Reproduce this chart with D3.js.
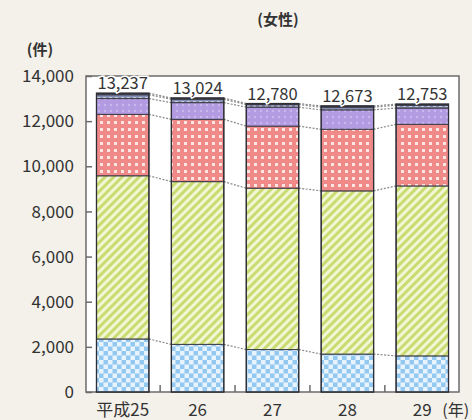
<!DOCTYPE html>
<html>
<head>
<meta charset="utf-8">
<script src="https://cdn.jsdelivr.net/npm/d3@7"></script>
<style>
  body { margin: 0; background: #f4f1ea; }
  svg { display: block; font-family: "Noto Sans CJK JP", "Noto Sans", sans-serif; }
</style>
</head>
<body>
<div id="main"></div>
<script>
const years = ["平成25", "26", "27", "28", "29"];
const totals = [13237, 13024, 12780, 12673, 12753];
// stacked from the bottom up
const blue = [2350, 2110, 1880, 1680, 1600];
const green = [7230, 7210, 7150, 7230, 7530];
const red = [2720, 2760, 2750, 2730, 2730];
const purple = [700, 740, 840, 860, 720];
const slate = [170, 150, 110, 120, 125];
const dark = [67, 54, 50, 53, 48];
const yTicks = [0, 2000, 4000, 6000, 8000, 10000, 12000, 14000];

const seriesKeys = ["blue", "green", "red", "purple", "slate", "dark"];
const seriesFill = {
  blue: "url(#pat-blue)",
  green: "url(#pat-green)",
  red: "url(#pat-red)",
  purple: "url(#pat-purple)",
  slate: "url(#pat-slate)",
  dark: "#3d4766",
};

const rows = years.map((y, i) => ({
  year: y,
  blue: blue[i], green: green[i], red: red[i],
  purple: purple[i], slate: slate[i], dark: dark[i],
}));

const W = 472, H = 420;
const M = { left: 86, right: 459, top: 76, bottom: 392 };

const svg = d3.select("#main").append("svg").attr("width", W).attr("height", H);
svg.append("rect").attr("width", W).attr("height", H).attr("fill", "#f4f1ea");

const defs = svg.append("defs");

// light blue checker
const pBlue = defs.append("pattern").attr("id", "pat-blue")
  .attr("patternUnits", "userSpaceOnUse").attr("width", 9).attr("height", 9);
pBlue.append("rect").attr("width", 9).attr("height", 9).attr("fill", "#93c8f0");
pBlue.append("rect").attr("width", 4.5).attr("height", 4.5).attr("fill", "#e8f4fd");
pBlue.append("rect").attr("x", 4.5).attr("y", 4.5).attr("width", 4.5).attr("height", 4.5).attr("fill", "#e8f4fd");

// green diagonal hatch
const pGreen = defs.append("pattern").attr("id", "pat-green")
  .attr("patternUnits", "userSpaceOnUse").attr("width", 6).attr("height", 6)
  .attr("patternTransform", "rotate(45)");
pGreen.append("rect").attr("width", 6).attr("height", 6).attr("fill", "#f2f6d4");
pGreen.append("rect").attr("width", 3).attr("height", 6).attr("fill", "#c9dc72");

// red grid with white dots
const pRed = defs.append("pattern").attr("id", "pat-red")
  .attr("patternUnits", "userSpaceOnUse").attr("width", 7).attr("height", 7);
pRed.append("rect").attr("width", 7).attr("height", 7).attr("fill", "#ef8a88");
pRed.append("rect").attr("x", 2).attr("y", 2).attr("width", 3).attr("height", 3).attr("fill", "#fde6e2");

// purple with faint dots
const pPurple = defs.append("pattern").attr("id", "pat-purple")
  .attr("patternUnits", "userSpaceOnUse").attr("width", 6).attr("height", 6);
pPurple.append("rect").attr("width", 6).attr("height", 6).attr("fill", "#b39be2");
pPurple.append("circle").attr("cx", 3).attr("cy", 3).attr("r", 1.2).attr("fill", "#c9b8ee");

// slate band with white dashes
const pSlate = defs.append("pattern").attr("id", "pat-slate")
  .attr("patternUnits", "userSpaceOnUse").attr("width", 6).attr("height", 4);
pSlate.append("rect").attr("width", 6).attr("height", 4).attr("fill", "#8690b4");
pSlate.append("rect").attr("x", 1).attr("y", 1.5).attr("width", 3).attr("height", 1).attr("fill", "#ffffff");

const x = d3.scaleBand().domain(years).range([M.left, M.right]).paddingInner(0.3).paddingOuter(0.14);
const y = d3.scaleLinear().domain([0, 14000]).range([M.bottom, M.top]);

const stacked = d3.stack().keys(seriesKeys)(rows);

// plot panel
svg.append("rect")
  .attr("x", M.left).attr("y", M.top)
  .attr("width", M.right - M.left).attr("height", M.bottom - M.top)
  .attr("fill", "#ffffff")
  .attr("stroke", "#6b6b6b").attr("stroke-width", 1.5);

// dotted connectors between bars at each boundary
const connectors = svg.append("g").attr("fill", "none")
  .attr("stroke", "#8a8a8a").attr("stroke-width", 1.2).attr("stroke-dasharray", "2,1.5");
stacked.forEach((layer) => {
  for (let i = 0; i < years.length - 1; i++) {
    connectors.append("line")
      .attr("x1", x(years[i]) + x.bandwidth())
      .attr("x2", x(years[i + 1]))
      .attr("y1", y(layer[i][1]))
      .attr("y2", y(layer[i + 1][1]));
  }
});

// bars
const layers = svg.append("g").selectAll("g")
  .data(stacked)
  .join("g")
  .attr("fill", (d) => seriesFill[d.key]);

layers.selectAll("rect")
  .data((d) => d)
  .join("rect")
  .attr("x", (d) => x(d.data.year))
  .attr("y", (d) => y(d[1]))
  .attr("width", x.bandwidth())
  .attr("height", (d) => y(d[0]) - y(d[1]))
  .attr("stroke", "#3b3b45")
  .attr("stroke-width", 1);

// outline on each whole bar
svg.append("g").selectAll("rect")
  .data(years)
  .join("rect")
  .attr("x", (d) => x(d))
  .attr("y", (d, i) => y(totals[i]))
  .attr("width", x.bandwidth())
  .attr("height", (d, i) => M.bottom - y(totals[i]))
  .attr("fill", "none")
  .attr("stroke", "#2e2e36")
  .attr("stroke-width", 1.3);

// y axis
const yAxis = svg.append("g")
  .attr("transform", `translate(${M.left},0)`)
  .call(d3.axisRight(y).tickValues(yTicks).tickSize(6).tickFormat(""));
yAxis.select(".domain").remove();
yAxis.selectAll("line").attr("stroke", "#6b6b6b").attr("stroke-width", 1.5);

svg.append("g").selectAll("text")
  .data(yTicks)
  .join("text")
  .attr("x", M.left - 12)
  .attr("y", (d) => y(d))
  .attr("dy", "0.36em")
  .attr("text-anchor", "end")
  .attr("font-size", 17)
  .attr("fill", "#333")
  .text((d) => d3.format(",")(d));

// category separator ticks on the base line
svg.append("g").selectAll("line")
  .data(years.slice(1))
  .join("line")
  .attr("x1", (d) => x(d) - x.step() * x.paddingInner() / 2)
  .attr("x2", (d) => x(d) - x.step() * x.paddingInner() / 2)
  .attr("y1", M.bottom)
  .attr("y2", M.bottom - 7)
  .attr("stroke", "#6b6b6b")
  .attr("stroke-width", 1.5);

// x labels
svg.append("g").selectAll("text")
  .data(years)
  .join("text")
  .attr("x", (d) => x(d) + x.bandwidth() / 2)
  .attr("y", 416)
  .attr("text-anchor", "middle")
  .attr("font-size", 17)
  .attr("fill", "#333")
  .text((d) => d);

svg.append("text")
  .attr("x", x("29") + x.bandwidth() / 2 + 20)
  .attr("y", 416)
  .attr("font-size", 16)
  .attr("fill", "#333")
  .text("(年)");

// totals, with a white halo that breaks the frame line
svg.append("g").selectAll("text")
  .data(years)
  .join("text")
  .attr("x", (d) => x(d) + x.bandwidth() / 2)
  .attr("y", (d, i) => y(totals[i]) - 4)
  .attr("text-anchor", "middle")
  .attr("font-size", 16.5)
  .attr("fill", "#333")
  .attr("stroke", "#ffffff")
  .attr("stroke-width", 3)
  .attr("paint-order", "stroke")
  .text((d, i) => d3.format(",")(totals[i]));

// titles
svg.append("text")
  .attr("x", 278).attr("y", 25)
  .attr("text-anchor", "middle")
  .attr("font-size", 15).attr("font-weight", "bold")
  .attr("fill", "#333")
  .text("(女性)");

svg.append("text")
  .attr("x", 40).attr("y", 55)
  .attr("text-anchor", "middle")
  .attr("font-size", 15).attr("font-weight", "bold")
  .attr("fill", "#333")
  .text("(件)");
</script>
</body>
</html>
